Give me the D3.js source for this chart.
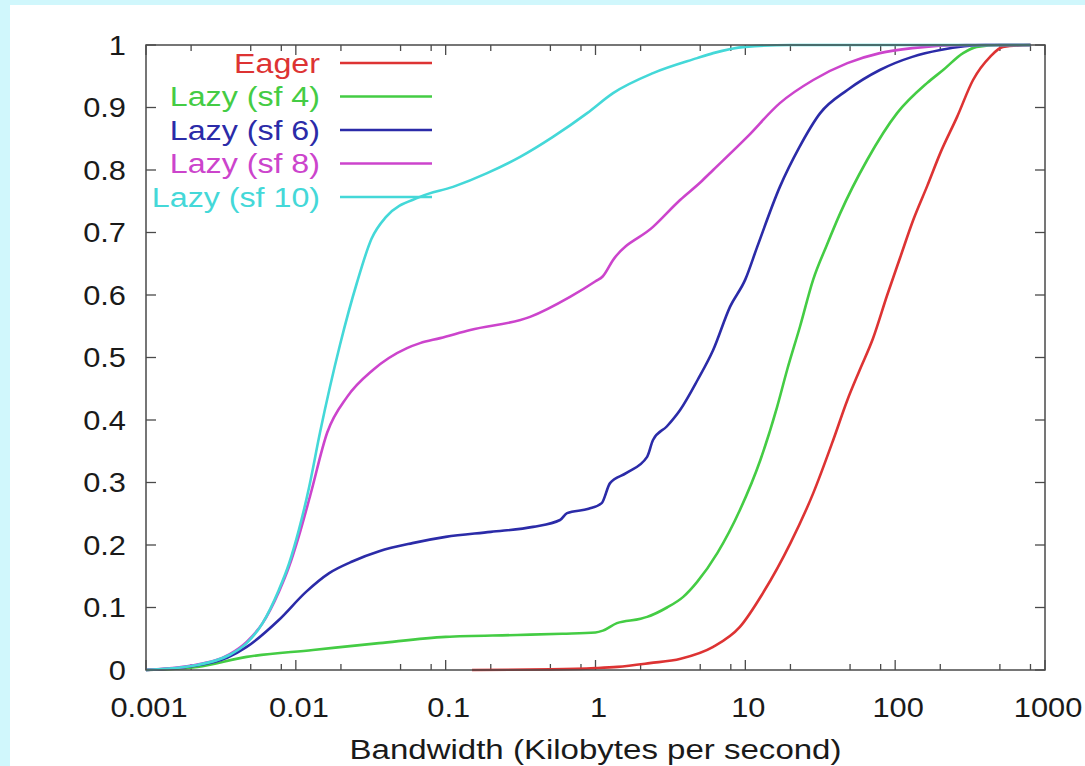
<!DOCTYPE html>
<html>
<head>
<meta charset="utf-8">
<script src="https://cdn.jsdelivr.net/npm/d3@7"></script>
<style>
  html, body { margin: 0; padding: 0; background: #d0f7fc; }
  svg { display: block; }
</style>
</head>
<body>
<svg id="chart" width="1085" height="766"></svg>
<script>
// ---------------- data ----------------
const seriesNames = ["Eager", "Lazy (sf 4)", "Lazy (sf 6)", "Lazy (sf 8)", "Lazy (sf 10)"];
const seriesColors = ["#dd3333", "#44cc44", "#2b2ba8", "#cc44cc", "#44d8d8"];

const eagerX = [0.15, 0.5, 1, 1.4, 2.3, 3.7, 6.1, 9.2, 13.1, 20, 28.4, 38.6, 48, 58, 71, 88.5, 108, 132, 164, 200, 259, 331, 430, 525, 800];
const eagerY = [0, 0.001, 0.003, 0.005, 0.011, 0.018, 0.037, 0.069, 0.123, 0.203, 0.283, 0.368, 0.432, 0.48, 0.53, 0.60, 0.66, 0.72, 0.775, 0.827, 0.885, 0.944, 0.981, 0.997, 1];

const sf4X = [0.001, 0.0022, 0.0047, 0.013, 0.036, 0.1, 0.3, 0.6, 1.0, 1.12, 1.39, 2.0, 2.21, 3.0, 3.85, 4.77, 6.5, 9.2, 12.6, 16.3, 19, 23.2, 28.4, 35, 43, 65, 103, 163, 209, 284, 350, 500, 800];
const sf4Y = [0, 0.005, 0.021, 0.032, 0.043, 0.053, 0.056, 0.058, 0.06, 0.063, 0.075, 0.082, 0.085, 0.1, 0.117, 0.141, 0.187, 0.256, 0.336, 0.421, 0.48, 0.55, 0.625, 0.68, 0.731, 0.816, 0.891, 0.939, 0.96, 0.987, 0.997, 1, 1];

const sf6X = [0.001, 0.002, 0.0035, 0.0047, 0.0077, 0.0117, 0.0167, 0.024, 0.036, 0.06, 0.1, 0.2, 0.383, 0.58, 0.646, 0.9, 1.1, 1.25, 1.6, 2.21, 2.42, 3.0, 3.67, 4.8, 6.1, 7.9, 10, 12, 17, 23, 31.6, 48, 79, 130, 200, 400, 800];
const sf6Y = [0, 0.006, 0.02, 0.037, 0.08, 0.125, 0.155, 0.174, 0.19, 0.203, 0.213, 0.221, 0.229, 0.24, 0.251, 0.258, 0.267, 0.299, 0.315, 0.341, 0.368, 0.39, 0.416, 0.464, 0.512, 0.581, 0.625, 0.677, 0.773, 0.837, 0.891, 0.928, 0.96, 0.981, 0.992, 1, 1];

const sf8X = [0.001, 0.002, 0.0036, 0.0047, 0.006, 0.0077, 0.009, 0.0105, 0.0125, 0.0162, 0.022, 0.0327, 0.0552, 0.0675, 0.092, 0.146, 0.366, 0.676, 1.0, 1.12, 1.31, 2.42, 3.67, 5.0, 6.1, 10.3, 17, 28.4, 48, 79, 130, 300, 800];
const sf8Y = [0, 0.007, 0.025, 0.045, 0.075, 0.125, 0.165, 0.215, 0.28, 0.38, 0.437, 0.48, 0.515, 0.523, 0.531, 0.544, 0.565, 0.597, 0.622, 0.63, 0.656, 0.709, 0.752, 0.78, 0.8, 0.853, 0.907, 0.944, 0.971, 0.987, 0.995, 1, 1];

const sf10X = [0.001, 0.0022, 0.0036, 0.0047, 0.006, 0.0077, 0.009, 0.0105, 0.0122, 0.0145, 0.0197, 0.0256, 0.032, 0.04, 0.0675, 0.112, 0.189, 0.314, 0.52, 0.88, 1.31, 2.42, 4.77, 6.1, 10, 20, 800];
const sf10Y = [0, 0.008, 0.024, 0.043, 0.075, 0.128, 0.17, 0.225, 0.29, 0.38, 0.52, 0.62, 0.69, 0.725, 0.757, 0.773, 0.795, 0.821, 0.853, 0.891, 0.923, 0.955, 0.979, 0.987, 0.997, 1, 1];

const xTickValues = [0.001, 0.01, 0.1, 1, 10, 100, 1000];
const xTickLabels = ["0.001", "0.01", "0.1", "1", "10", "100", "1000"];
const xMinorFactors = [2, 5, 8];
const yTickValues = [0, 0.1, 0.2, 0.3, 0.4, 0.5, 0.6, 0.7, 0.8, 0.9, 1];
const yTickLabels = ["0", "0.1", "0.2", "0.3", "0.4", "0.5", "0.6", "0.7", "0.8", "0.9", "1"];
const xTitle = "Bandwidth (Kilobytes per second)";

const seriesX = [eagerX, sf4X, sf6X, sf8X, sf10X];
const seriesY = [eagerY, sf4Y, sf6Y, sf8Y, sf10Y];

// ---------------- drawing ----------------
const svg = d3.select("#chart");
const L = 146, R = 1045, T = 45, B = 670;
const FONT = "'Liberation Sans', Arial, Helvetica, sans-serif";
const SX = 1.1;

svg.append("rect").attr("x", 10).attr("y", 5).attr("width", 1075).attr("height", 761).attr("fill", "#ffffff");

const x = d3.scaleLog().domain([0.001, 1000]).range([L, R]);
const y = d3.scaleLinear().domain([0, 1]).range([B, T]);

const axisColor = "#4a4a4a";

// minor x ticks
const minorVals = [];
xTickValues.slice(0, -1).forEach(d => xMinorFactors.forEach(f => minorVals.push(d * f)));

const tickG = svg.append("g").attr("stroke", axisColor).attr("stroke-width", 1.3);
minorVals.forEach(v => {
  tickG.append("line").attr("x1", x(v)).attr("x2", x(v)).attr("y1", B).attr("y2", B - 6);
  tickG.append("line").attr("x1", x(v)).attr("x2", x(v)).attr("y1", T).attr("y2", T + 6);
});
xTickValues.forEach(v => {
  tickG.append("line").attr("x1", x(v)).attr("x2", x(v)).attr("y1", B).attr("y2", B - 10);
  tickG.append("line").attr("x1", x(v)).attr("x2", x(v)).attr("y1", T).attr("y2", T + 10);
});
yTickValues.forEach(v => {
  tickG.append("line").attr("x1", L).attr("x2", L + 10).attr("y1", y(v)).attr("y2", y(v));
  tickG.append("line").attr("x1", R).attr("x2", R - 10).attr("y1", y(v)).attr("y2", y(v));
});

// curves
const line = d3.line().x(d => x(d[0])).y(d => y(d[1])).curve(d3.curveMonotoneX);
seriesNames.forEach((name, i) => {
  const pts = seriesX[i].map((v, j) => [v, seriesY[i][j]]);
  svg.append("path").datum(pts)
    .attr("d", line)
    .attr("fill", "none")
    .attr("stroke", seriesColors[i])
    .attr("stroke-width", 2.6)
    .attr("stroke-linejoin", "round");
});

// frame
svg.append("rect").attr("x", L).attr("y", T).attr("width", R - L).attr("height", B - T)
  .attr("fill", "none").attr("stroke", axisColor).attr("stroke-width", 1.5);

// tick labels
yTickValues.forEach((v, i) => {
  svg.append("text")
    .attr("transform", `translate(126,${y(v)}) scale(${SX},1)`)
    .attr("text-anchor", "end").attr("dominant-baseline", "central")
    .attr("font-family", FONT).attr("font-size", 28).attr("fill", "#1a1a1a")
    .text(yTickLabels[i]);
});
xTickValues.forEach((v, i) => {
  svg.append("text")
    .attr("transform", `translate(${x(v) + 3},717) scale(${SX},1)`)
    .attr("text-anchor", "middle")
    .attr("font-family", FONT).attr("font-size", 28).attr("fill", "#1a1a1a")
    .text(xTickLabels[i]);
});

// axis title
svg.append("text")
  .attr("transform", `translate(${(L + R) / 2},759) scale(1.18,1)`)
  .attr("text-anchor", "middle")
  .attr("font-family", FONT).attr("font-size", 28).attr("fill", "#1a1a1a")
  .text(xTitle);

// legend
seriesNames.forEach((name, i) => {
  const ly = 63 + i * 33.5;
  svg.append("text")
    .attr("transform", `translate(320,${ly}) scale(1.15,1)`)
    .attr("text-anchor", "end").attr("dominant-baseline", "central")
    .attr("font-family", FONT).attr("font-size", 28).attr("fill", seriesColors[i])
    .text(name);
  svg.append("line").attr("x1", 340).attr("x2", 432).attr("y1", ly).attr("y2", ly)
    .attr("stroke", seriesColors[i]).attr("stroke-width", 2.6);
});
</script>
</body>
</html>
